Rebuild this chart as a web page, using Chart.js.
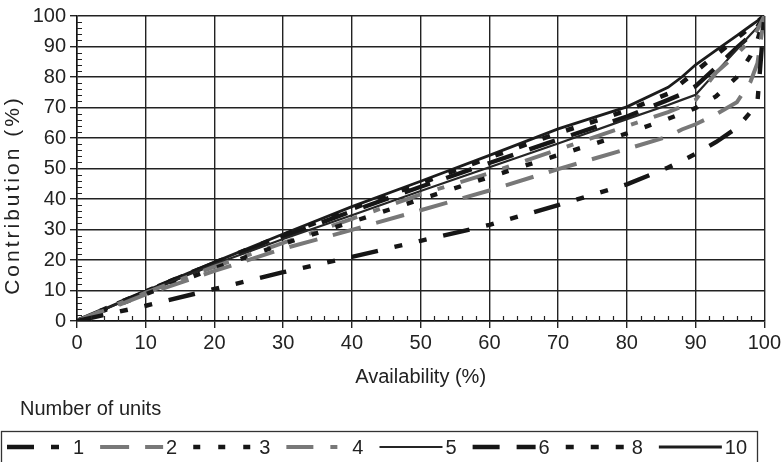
<!DOCTYPE html>
<html>
<head>
<meta charset="utf-8">
<script src="https://cdn.jsdelivr.net/npm/chart.js@4.4.1/dist/chart.umd.min.js"></script>
<style>
  html, body { margin: 0; padding: 0; background: #ffffff; }
  #wrap { width: 784px; height: 462px; position: relative; }
</style>
</head>
<body>
<div id="wrap"><canvas id="chart" width="784" height="462"></canvas></div>
<script>
// ---- Data ----
const availability = [0, 10, 20, 30, 40, 50, 60, 70, 80, 86, 88, 90, 93, 96, 98, 99, 100];

const units1  = [0, 5.0, 10.5, 16.0, 21.0, 26.3, 31.5, 38.0, 44.8, 50.3, 52.5, 54.8, 58.7, 63.3, 68.5, 71.8, 100];
const units2  = [0, 8.7, 16.4, 23.7, 29.9, 36.3, 42.8, 49.8, 56.4, 60.5, 62.8, 64.5, 67.8, 71.7, 78.5, 84.5, 100];
const units3  = [0, 8.8, 17.3, 25.3, 32.5, 39.9, 47.2, 54.4, 61.5, 66.3, 68.0, 69.8, 73.7, 80.0, 87.0, 92.0, 100];
const units4  = [0, 9.3, 17.8, 25.6, 33.5, 41.5, 48.5, 56.2, 63.9, 68.5, 70.3, 72.5, 81.5, 87.5, 92.0, 95.5, 100];
const units5  = [0, 9.5, 18.6, 26.9, 34.7, 42.6, 50.4, 58.2, 66.2, 70.8, 72.5, 74.2, 81.6, 89.0, 93.9, 96.3, 100];
const units6  = [0, 9.7, 19.0, 27.6, 36.0, 44.0, 51.8, 59.5, 67.0, 72.5, 74.4, 77.0, 83.2, 89.6, 93.6, 96.5, 100];
const units8  = [0, 9.7, 19.1, 28.1, 36.8, 45.1, 53.6, 61.6, 69.0, 74.5, 78.1, 81.8, 87.3, 92.7, 96.4, 98.2, 100];
const units10 = [0, 9.8, 19.3, 28.5, 37.5, 45.8, 54.3, 63.0, 70.2, 76.6, 80.0, 84.0, 88.8, 93.6, 96.8, 98.4, 100];

const seriesLabels = ['1', '2', '3', '4', '5', '6', '8', '10'];
const seriesValues = [units1, units2, units3, units4, units5, units6, units8, units10];

const xTickValues = [0, 10, 20, 30, 40, 50, 60, 70, 80, 90, 100];
const yTickValues = [0, 10, 20, 30, 40, 50, 60, 70, 80, 90, 100];

const xTitle = 'Availability (%)';
const yTitle = 'Contribution (%)';
const legendTitle = 'Number of units';

// ---- Styles ----
const BLACK = '#161616';
const GRAY = '#787878';
const styles = [
  { color: BLACK, width: 4.4, dash: [27, 17, 8, 17, 8, 17] },   // 1
  { color: GRAY,  width: 4.0, dash: [29, 16] },                 // 2
  { color: BLACK, width: 4.4, dash: [7, 18] },                  // 3
  { color: GRAY,  width: 4.0, dash: [27, 17, 7, 17] },          // 4
  { color: '#252525', width: 2.2, dash: [] },                   // 5
  { color: BLACK, width: 4.4, dash: [27, 17] },                 // 6
  { color: BLACK, width: 4.6, dash: [8, 17] },                  // 8
  { color: '#1c1c1c', width: 2.8, dash: [] }                    // 10
];

const FONT = '"Liberation Sans", Arial, Helvetica, sans-serif';
Chart.defaults.font.family = FONT;
Chart.defaults.color = '#222';

const datasets = seriesLabels.map((lab, i) => ({
  label: lab,
  data: availability.map((a, j) => ({ x: a, y: seriesValues[i][j] })),
  borderColor: styles[i].color,
  backgroundColor: styles[i].color,
  borderWidth: styles[i].width,
  borderDash: styles[i].dash,
  borderCapStyle: 'butt',
  borderJoinStyle: 'miter',
  pointRadius: 0,
  pointHoverRadius: 0,
  tension: 0,
  fill: false
}));

// Minor ticks drawn through the chart scales
const MINOR_STEP = 2;
const minorTicks = {
  id: 'minorTicks',
  afterDraw(chart) {
    const { ctx } = chart;
    const xs = chart.scales.x, ys = chart.scales.y;
    ctx.save();
    ctx.strokeStyle = '#222';
    ctx.lineWidth = 1.2;
    ctx.beginPath();
    for (let v = xs.min + MINOR_STEP; v < xs.max; v += MINOR_STEP) {
      if (xTickValues.includes(v)) continue;
      const px = Math.round(xs.getPixelForValue(v)) + 0.5;
      ctx.moveTo(px, ys.bottom);
      ctx.lineTo(px, ys.bottom - 5);
    }
    for (let v = ys.min + MINOR_STEP; v < ys.max; v += MINOR_STEP) {
      if (yTickValues.includes(v)) continue;
      const py = Math.round(ys.getPixelForValue(v)) + 0.5;
      ctx.moveTo(xs.left, py);
      ctx.lineTo(xs.left + 5, py);
    }
    ctx.stroke();
    ctx.restore();
  }
};

// Y axis title (wider tracking, as in the reference)
const yAxisTitle = {
  id: 'yAxisTitle',
  afterDraw(chart) {
    const { ctx } = chart;
    ctx.save();
    ctx.font = '21px ' + FONT;
    ctx.fillStyle = '#222';
    if ('letterSpacing' in ctx) ctx.letterSpacing = '3px';
    ctx.textAlign = 'center';
    ctx.textBaseline = 'middle';
    ctx.translate(13, 195);
    ctx.rotate(-Math.PI / 2);
    ctx.fillText(yTitle, 0, 0);
    ctx.restore();
  }
};

// Boxed legend with title, built from the datasets
const boxedLegend = {
  id: 'boxedLegend',
  afterDraw(chart) {
    const { ctx } = chart;
    ctx.save();
    ctx.font = '20px ' + FONT;
    ctx.fillStyle = '#222';
    ctx.textBaseline = 'middle';
    ctx.textAlign = 'left';
    ctx.fillText(legendTitle, 20, 409);

    ctx.strokeStyle = '#333';
    ctx.lineWidth = 1.3;
    ctx.strokeRect(1.5, 431.5, 756, 45);

    let x = 7;
    const y = 447;
    chart.data.datasets.forEach(ds => {
      ctx.save();
      ctx.strokeStyle = ds.borderColor;
      ctx.lineWidth = ds.borderWidth;
      ctx.lineCap = 'butt';
      ctx.setLineDash(ds.borderDash || []);
      ctx.beginPath();
      ctx.moveTo(x, y);
      ctx.lineTo(x + 63, y);
      ctx.stroke();
      ctx.restore();
      ctx.fillText(ds.label, x + 66, y + 1);
      x += 63 + 3 + ctx.measureText(ds.label).width + 16;
    });
    ctx.restore();
  }
};

new Chart(document.getElementById('chart'), {
  type: 'line',
  data: { datasets },
  options: {
    responsive: false,
    animation: false,
    devicePixelRatio: 1,
    layout: { padding: { left: 0, right: 18, top: 16, bottom: 71 } },
    plugins: {
      legend: { display: false },
      tooltip: { enabled: false }
    },
    scales: {
      x: {
        type: 'linear',
        min: 0, max: 100,
        afterBuildTicks: (s) => { s.ticks = xTickValues.map(v => ({ value: v })); },
        afterFit: (s) => { s.height = 70; },
        ticks: { font: { size: 20 }, color: '#222', padding: 3, maxRotation: 0 },
        grid: { color: '#222', lineWidth: 1.4, tickLength: 7, drawTicks: true },
        border: { color: '#111', width: 1.5 },
        title: { display: true, text: xTitle, font: { size: 20 }, color: '#222', padding: { top: 0, bottom: 2 } }
      },
      y: {
        type: 'linear',
        min: 0, max: 100,
        afterBuildTicks: (s) => { s.ticks = yTickValues.map(v => ({ value: v })); },
        afterFit: (s) => { s.width = 77; },
        ticks: { font: { size: 20 }, color: '#222', padding: 4 },
        grid: { color: '#222', lineWidth: 1.4, tickLength: 7, drawTicks: true },
        border: { color: '#111', width: 1.5 },
        title: { display: false, text: yTitle }
      }
    }
  },
  plugins: [minorTicks, yAxisTitle, boxedLegend]
});
</script>
</body>
</html>
